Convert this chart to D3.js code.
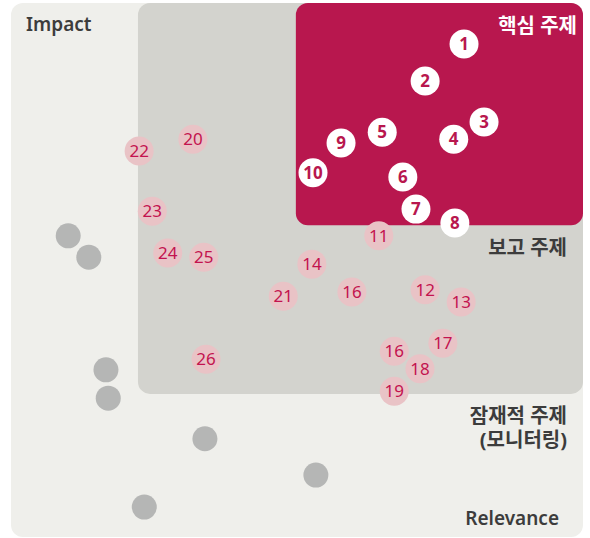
<!DOCTYPE html>
<html>
<head>
<meta charset="utf-8">
<script src="https://cdn.jsdelivr.net/npm/d3@7"></script>
<style>
  html, body { margin: 0; padding: 0; background: #fff; }
  svg { display: block; }
  text { font-family: "Noto Sans", "Noto Sans CJK KR", sans-serif; }
</style>
</head>
<body>
<div class="matrix"></div>
<script>
// 핵심 주제 (core topics)
const coreIds = [1, 2, 3, 4, 5, 6, 7, 8, 9, 10];
const coreRelevance = [79.2, 72.4, 82.7, 77.4, 64.9, 68.5, 70.8, 77.6, 57.7, 52.8];
const coreImpact = [92.3, 85.4, 77.7, 74.5, 75.8, 67.4, 61.4, 58.8, 73.8, 68.2];

// 보고 주제 (reported topics)
const reportIds = [11, 12, 13, 14, 16, 16, 17, 18, 19, 20, 21, 22, 23, 24, 25, 26];
const reportRelevance = [64.3, 72.4, 78.7, 52.6, 59.6, 67.0, 75.5, 71.5, 67.0, 31.8, 47.6, 22.4, 24.7, 27.4, 33.7, 34.1];
const reportImpact = [56.4, 46.3, 44.0, 51.1, 45.9, 34.8, 36.3, 31.5, 27.3, 74.5, 45.1, 72.3, 61.0, 53.2, 52.4, 33.3];

// 잠재적 주제 (unlabelled, monitoring)
const otherRelevance = [10.0, 13.6, 16.6, 17.0, 33.9, 53.3, 23.3];
const otherImpact = [56.4, 52.4, 31.3, 26.0, 18.4, 11.6, 5.6];

// zone thresholds [relevance, impact]
const reportZone = [22.2, 26.8];
const coreZone = [49.8, 58.4];

const width = 590, height = 538;

const xScale = d3.scaleLinear().domain([0, 100]).range([11, 583]);
const yScale = d3.scaleLinear().domain([0, 100]).range([537, 3]);

const toRows = (ids, xs, ys) => xs.map((x, i) => ({id: ids ? ids[i] : null, x: x, y: ys[i]}));
const core = toRows(coreIds, coreRelevance, coreImpact);
const report = toRows(reportIds, reportRelevance, reportImpact);
const other = toRows(null, otherRelevance, otherImpact);

var svg = d3.select('.matrix')
    .append('svg')
    .attr('width', width)
    .attr('height', height);

// zones
svg.append('rect')
    .attr('x', xScale(0))
    .attr('y', yScale(100))
    .attr('width', xScale(100) - xScale(0))
    .attr('height', yScale(0) - yScale(100))
    .attr('rx', 12)
    .attr('fill', '#efefeb');

svg.append('rect')
    .attr('x', xScale(reportZone[0]))
    .attr('y', yScale(100))
    .attr('width', xScale(100) - xScale(reportZone[0]))
    .attr('height', yScale(reportZone[1]) - yScale(100))
    .attr('rx', 12)
    .attr('fill', '#d3d3ce');

svg.append('rect')
    .attr('x', xScale(coreZone[0]))
    .attr('y', yScale(100))
    .attr('width', xScale(100) - xScale(coreZone[0]))
    .attr('height', yScale(coreZone[1]) - yScale(100))
    .attr('rx', 12)
    .attr('fill', '#b8174e');

// labels
function label(x, y, txt, color, anchor) {
    return svg.append('text')
        .attr('x', x)
        .attr('y', y)
        .attr('text-anchor', anchor || 'end')
        .attr('font-size', 20)
        .attr('font-weight', 700)
        .attr('fill', color)
        .text(txt);
}
label(26, 31, 'Impact', '#3c3c3c', 'start').attr('font-weight', 600).attr('font-size', 19);
label(559, 525, 'Relevance', '#3c3c3c').attr('font-weight', 600).attr('font-size', 19);
label(577, 33, '핵심 주제', '#ffffff');
label(567, 255, '보고 주제', '#3c3c3c');
label(567, 423, '잠재적 주제', '#3c3c3c');
label(567, 447, '(모니터링)', '#3c3c3c');

// grey dots
svg.selectAll('circle.other')
    .data(other)
    .join('circle')
    .attr('class', 'other')
    .attr('cx', d => xScale(d.x))
    .attr('cy', d => yScale(d.y))
    .attr('r', 12.5)
    .attr('fill', '#b5b6b5');

// pink dots
var rep = svg.selectAll('g.report')
    .data(report)
    .join('g')
    .attr('class', 'report')
    .attr('transform', d => `translate(${xScale(d.x)},${yScale(d.y)})`);
rep.append('circle')
    .attr('r', 14.5)
    .attr('fill', '#e9c3c6');
rep.append('text')
    .attr('text-anchor', 'middle')
    .attr('dy', '0.36em')
    .attr('font-size', 17)
    .attr('fill', '#c3134f')
    .text(d => d.id);

// white dots
var cor = svg.selectAll('g.core')
    .data(core)
    .join('g')
    .attr('class', 'core')
    .attr('transform', d => `translate(${xScale(d.x)},${yScale(d.y)})`);
cor.append('circle')
    .attr('r', 14.5)
    .attr('fill', '#ffffff');
cor.append('text')
    .attr('text-anchor', 'middle')
    .attr('dy', '0.36em')
    .attr('font-size', 17)
    .attr('font-weight', 700)
    .attr('fill', '#b8174e')
    .text(d => d.id);
</script>
</body>
</html>
